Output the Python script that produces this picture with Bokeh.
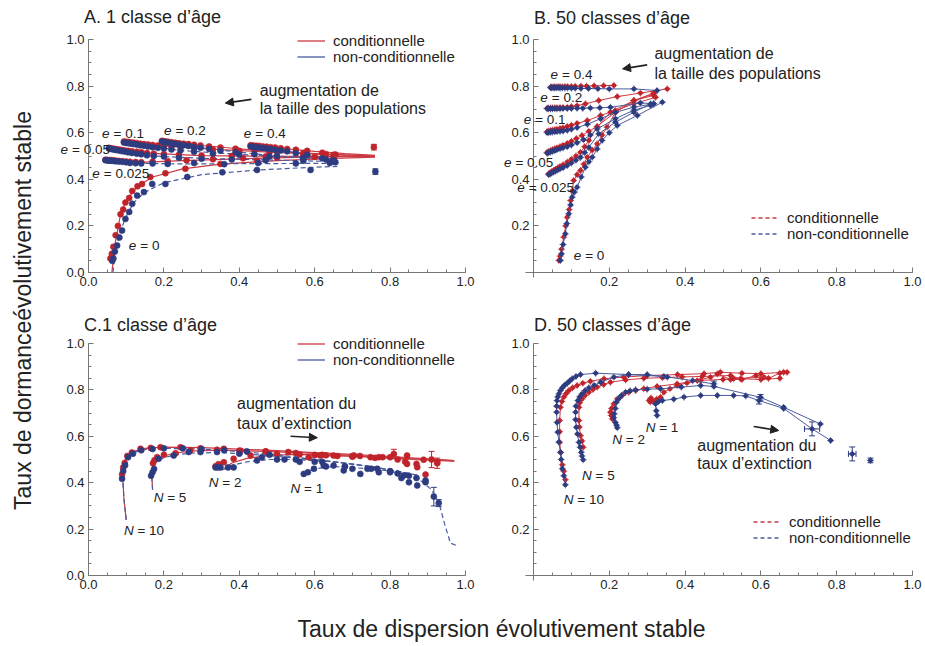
import math
from bokeh.plotting import figure
from bokeh.models import (Range1d, FixedTicker, PrintfTickFormatter, Label, Arrow, NormalHead,
                          Legend, LegendItem, Whisker, ColumnDataSource, TeeHead, LinearAxis)
from bokeh.layouts import row, column
from bokeh.embed import file_html
from bokeh.resources import INLINE

FONT = "Liberation Sans"
RED = "#C1232B"
BLUE = "#2D3C80"
RED_L = "#CC3A44"
BLUE_L = "#4A5C9E"
TXT = "#222222"
AXIS = "#777777"

TICKS_0 = [0.0, 0.2, 0.4, 0.6, 0.8, 1.0]
TICKS_NZ = [0.2, 0.4, 0.6, 0.8, 1.0]
MINOR = [0.0, 0.05, 0.1, 0.15, 0.2, 0.25, 0.3, 0.35, 0.4, 0.45, 0.5, 0.55, 0.6, 0.65, 0.7,
         0.75, 0.8, 0.85, 0.9, 0.95, 1.0]

# ---------------- Panel A : 1 classe d'age (points) ----------------
A_E0_R_X = [0.058,0.062,0.066,0.072,0.078,0.085,0.092,0.098,0.108,0.116,0.130,0.142,0.164,0.204,0.257,0.350,0.447]
A_E0_R_Y = [0.06,0.08,0.11,0.16,0.20,0.25,0.27,0.30,0.32,0.35,0.37,0.38,0.41,0.426,0.445,0.466,0.48]
A_E0_B_X = [0.063,0.066,0.070,0.076,0.082,0.089,0.098,0.108,0.116,0.129,0.147,0.169,0.204,0.262,0.355,0.447,0.589]
A_E0_B_Y = [0.05,0.06,0.09,0.116,0.15,0.18,0.23,0.26,0.295,0.33,0.345,0.38,0.38,0.41,0.43,0.44,0.44]
A_E025_R_X = [0.045,0.050,0.055,0.060,0.066,0.072,0.080,0.090,0.100,0.110,0.125,0.140,0.170,0.210,0.260,0.330,0.410,0.500,0.600]
A_E025_R_Y = [0.484,0.483,0.482,0.482,0.481,0.480,0.479,0.478,0.476,0.475,0.474,0.473,0.475,0.478,0.482,0.486,0.490,0.493,0.496]
A_E025_B_X = [0.045,0.050,0.055,0.060,0.066,0.072,0.080,0.090,0.100,0.110,0.125,0.140,0.170,0.210,0.280,0.360,0.450,0.550,0.640]
A_E025_B_Y = [0.482,0.481,0.480,0.480,0.479,0.477,0.476,0.475,0.473,0.470,0.469,0.468,0.468,0.466,0.470,0.465,0.470,0.468,0.470]
A_E05_R_X = [0.054,0.060,0.066,0.072,0.080,0.088,0.096,0.105,0.115,0.128,0.140,0.155,0.173,0.200,0.240,0.300,0.380,0.470,0.570,0.650]
A_E05_R_Y = [0.535,0.533,0.531,0.530,0.528,0.526,0.524,0.522,0.520,0.518,0.516,0.513,0.510,0.508,0.505,0.502,0.500,0.498,0.500,0.497]
A_E05_B_X = [0.054,0.060,0.066,0.072,0.080,0.088,0.096,0.105,0.115,0.128,0.140,0.155,0.173,0.200,0.240,0.300,0.380,0.470,0.570,0.650]
A_E05_B_Y = [0.532,0.530,0.528,0.526,0.524,0.521,0.519,0.516,0.513,0.510,0.507,0.503,0.500,0.498,0.492,0.488,0.485,0.482,0.480,0.476]
A_E1_R_X = [0.094,0.100,0.106,0.113,0.120,0.128,0.137,0.147,0.158,0.170,0.184,0.200,0.220,0.244,0.280,0.330,0.400,0.480,0.570,0.650]
A_E1_R_Y = [0.562,0.561,0.560,0.558,0.557,0.555,0.553,0.551,0.549,0.547,0.545,0.543,0.541,0.538,0.533,0.528,0.522,0.516,0.510,0.505]
A_E1_B_X = [0.094,0.100,0.106,0.113,0.120,0.128,0.137,0.147,0.158,0.170,0.184,0.200,0.220,0.244,0.280,0.330,0.400,0.480,0.570,0.650]
A_E1_B_Y = [0.558,0.556,0.555,0.553,0.551,0.549,0.546,0.544,0.541,0.538,0.535,0.532,0.528,0.524,0.518,0.510,0.505,0.498,0.490,0.485]
A_E2_R_X = [0.195,0.203,0.211,0.220,0.230,0.240,0.252,0.265,0.280,0.297,0.320,0.350,0.390,0.440,0.500,0.570,0.630]
A_E2_R_Y = [0.565,0.563,0.561,0.559,0.557,0.555,0.553,0.551,0.548,0.545,0.541,0.536,0.531,0.525,0.519,0.513,0.508]
A_E2_B_X = [0.195,0.203,0.211,0.220,0.230,0.240,0.252,0.265,0.280,0.297,0.320,0.350,0.390,0.440,0.500,0.570,0.630]
A_E2_B_Y = [0.562,0.560,0.557,0.555,0.552,0.549,0.546,0.543,0.539,0.535,0.530,0.523,0.516,0.508,0.500,0.492,0.485]
A_E4_R_X = [0.430,0.437,0.445,0.453,0.462,0.472,0.483,0.495,0.510,0.527,0.550,0.580,0.620,0.655]
A_E4_R_Y = [0.546,0.545,0.544,0.543,0.541,0.540,0.538,0.536,0.533,0.530,0.527,0.522,0.514,0.506]
A_E4_B_X = [0.430,0.437,0.445,0.453,0.462,0.472,0.483,0.495,0.510,0.527,0.550,0.580,0.620,0.655]
A_E4_B_Y = [0.541,0.540,0.538,0.536,0.534,0.532,0.530,0.527,0.524,0.520,0.512,0.505,0.490,0.473]
A_EXTRA_R_X = [0.757]
A_EXTRA_R_Y = [0.538]
A_EXTRA_R_E = [0.012]
A_EXTRA_B_X = [0.761]
A_EXTRA_B_Y = [0.433]
A_EXTRA_B_E = [0.012]

# Panel A fitted curves
A_FR0_X = [0.062,0.070,0.085,0.100,0.130,0.170,0.250,0.350,0.500,0.650,0.760]
A_FR0_Y = [0.000,0.120,0.250,0.310,0.370,0.410,0.445,0.465,0.480,0.490,0.495]
A_FB0_X = [0.065,0.070,0.080,0.090,0.100,0.120,0.150,0.200,0.300,0.450,0.600,0.660]
A_FB0_Y = [0.000,0.080,0.150,0.200,0.240,0.300,0.345,0.385,0.420,0.440,0.452,0.455]
A_FR025_X = [0.045,0.100,0.150,0.250,0.400,0.550,0.760]
A_FR025_Y = [0.484,0.477,0.474,0.480,0.488,0.494,0.500]
A_FB025_X = [0.045,0.100,0.150,0.250,0.400,0.550,0.660]
A_FB025_Y = [0.482,0.473,0.468,0.466,0.467,0.468,0.468]
A_FR05_X = [0.054,0.100,0.170,0.300,0.450,0.600,0.760]
A_FR05_Y = [0.535,0.522,0.511,0.502,0.499,0.498,0.497]
A_FB05_X = [0.054,0.100,0.170,0.300,0.450,0.600,0.660]
A_FB05_Y = [0.532,0.515,0.500,0.490,0.484,0.478,0.476]
A_FR1_X = [0.094,0.150,0.244,0.350,0.500,0.650,0.760]
A_FR1_Y = [0.562,0.550,0.538,0.527,0.515,0.505,0.500]
A_FB1_X = [0.094,0.150,0.244,0.350,0.500,0.600,0.660]
A_FB1_Y = [0.558,0.544,0.524,0.512,0.498,0.490,0.485]
A_FR2_X = [0.195,0.250,0.300,0.400,0.500,0.630,0.760]
A_FR2_Y = [0.565,0.554,0.545,0.531,0.519,0.508,0.500]
A_FB2_X = [0.195,0.250,0.300,0.400,0.500,0.600,0.660]
A_FB2_Y = [0.562,0.548,0.535,0.516,0.500,0.490,0.482]
A_FR4_X = [0.430,0.480,0.530,0.600,0.680,0.760]
A_FR4_Y = [0.546,0.538,0.530,0.520,0.510,0.503]
A_FB4_X = [0.430,0.480,0.530,0.580,0.620,0.660]
A_FB4_Y = [0.541,0.531,0.520,0.505,0.490,0.473]

# ---------------- Panel B : 50 classes d'age ----------------
B_E4_R_X = [0.045,0.048,0.052,0.056,0.060,0.065,0.070,0.076,0.083,0.090,0.100,0.110,0.125,0.140,0.160,0.185,0.212]
B_E4_R_Y = [0.795,0.795,0.796,0.796,0.796,0.797,0.797,0.797,0.798,0.798,0.798,0.799,0.800,0.800,0.801,0.802,0.803]
B_E4_B_X = [0.045,0.048,0.052,0.056,0.060,0.065,0.070,0.076,0.083,0.090,0.100,0.110,0.125,0.145,0.170,0.200,0.265,0.326]
B_E4_B_Y = [0.793,0.793,0.793,0.793,0.793,0.793,0.792,0.792,0.792,0.792,0.791,0.791,0.790,0.790,0.789,0.788,0.788,0.781]
B_E2_R_X = [0.036,0.040,0.045,0.050,0.056,0.062,0.070,0.078,0.089,0.100,0.115,0.137,0.172,0.221,0.282,0.353]
B_E2_R_Y = [0.705,0.705,0.706,0.706,0.707,0.707,0.708,0.708,0.709,0.712,0.716,0.724,0.738,0.755,0.770,0.788]
B_E2_B_X = [0.036,0.040,0.045,0.050,0.056,0.062,0.070,0.078,0.089,0.100,0.115,0.130,0.150,0.175,0.203,0.282,0.317]
B_E2_B_Y = [0.703,0.703,0.703,0.703,0.703,0.703,0.703,0.704,0.704,0.704,0.705,0.705,0.706,0.707,0.709,0.728,0.724]
B_E1_R_X = [0.036,0.040,0.045,0.050,0.056,0.062,0.070,0.078,0.089,0.100,0.115,0.142,0.177,0.216,0.265,0.322]
B_E1_R_Y = [0.605,0.607,0.609,0.611,0.613,0.615,0.618,0.621,0.627,0.632,0.640,0.652,0.674,0.695,0.724,0.752]
B_E1_B_X = [0.036,0.040,0.045,0.050,0.056,0.062,0.070,0.078,0.089,0.100,0.115,0.142,0.177,0.216,0.265,0.317]
B_E1_B_Y = [0.600,0.601,0.602,0.603,0.604,0.605,0.606,0.607,0.610,0.615,0.622,0.636,0.660,0.687,0.710,0.724]
B_E05_R_X = [0.036,0.040,0.045,0.050,0.056,0.062,0.070,0.078,0.089,0.100,0.113,0.128,0.146,0.168,0.216,0.265,0.317]
B_E05_R_Y = [0.516,0.519,0.523,0.527,0.531,0.535,0.540,0.546,0.554,0.563,0.575,0.588,0.606,0.627,0.688,0.738,0.760]
B_E05_B_X = [0.036,0.040,0.045,0.050,0.056,0.062,0.070,0.078,0.089,0.100,0.115,0.132,0.150,0.168,0.216,0.265,0.309]
B_E05_B_Y = [0.512,0.514,0.517,0.520,0.523,0.527,0.531,0.535,0.540,0.547,0.557,0.570,0.590,0.616,0.660,0.697,0.717]
B_E025_R_X = [0.040,0.044,0.048,0.053,0.058,0.064,0.070,0.078,0.089,0.100,0.112,0.124,0.135,0.146,0.168,0.203,0.265,0.317]
B_E025_R_Y = [0.424,0.428,0.433,0.438,0.443,0.449,0.455,0.462,0.474,0.486,0.500,0.516,0.540,0.567,0.624,0.688,0.738,0.766]
B_E025_B_X = [0.040,0.044,0.048,0.053,0.058,0.064,0.070,0.078,0.089,0.100,0.112,0.124,0.135,0.146,0.172,0.216,0.265,0.309]
B_E025_B_Y = [0.420,0.423,0.427,0.431,0.435,0.440,0.445,0.450,0.459,0.470,0.482,0.494,0.515,0.537,0.595,0.645,0.688,0.724]
B_E0_R_X = [0.067,0.070,0.074,0.080,0.085,0.089,0.094,0.098,0.102,0.106,0.115,0.124,0.133,0.142,0.155,0.168,0.181,0.194,0.216,0.265,0.317]
B_E0_R_Y = [0.052,0.070,0.100,0.152,0.200,0.237,0.270,0.309,0.350,0.395,0.420,0.438,0.465,0.495,0.525,0.552,0.590,0.624,0.687,0.738,0.770]
B_E0_B_X = [0.071,0.074,0.078,0.084,0.088,0.093,0.098,0.102,0.108,0.115,0.126,0.137,0.146,0.155,0.168,0.181,0.200,0.221,0.274,0.340]
B_E0_B_Y = [0.052,0.080,0.120,0.166,0.210,0.252,0.290,0.323,0.345,0.366,0.410,0.452,0.475,0.495,0.530,0.567,0.600,0.631,0.674,0.731]

# ---------------- Panel C : 1 classe d'age (extinction) ----------------
C_N10_R_X = [0.089,0.092,0.096,0.103,0.115,0.138,0.165,0.191,0.244,0.297,0.359,0.403,0.470,0.530,0.600,0.660,0.720,0.780,0.810,0.845,0.889,0.925]
C_N10_R_Y = [0.435,0.465,0.485,0.515,0.530,0.546,0.550,0.553,0.553,0.548,0.546,0.538,0.535,0.532,0.520,0.515,0.515,0.510,0.524,0.517,0.499,0.484]
C_N10_B_X = [0.089,0.092,0.097,0.105,0.118,0.140,0.170,0.200,0.250,0.300,0.360,0.420,0.480,0.550,0.620,0.680,0.740,0.800,0.850,0.894]
C_N10_B_Y = [0.417,0.450,0.475,0.510,0.525,0.540,0.545,0.548,0.548,0.545,0.540,0.535,0.520,0.500,0.490,0.470,0.460,0.450,0.430,0.410]
C_N5_R_X = [0.171,0.175,0.182,0.200,0.231,0.270,0.341,0.400,0.470,0.550,0.620,0.700,0.770,0.840,0.872]
C_N5_R_Y = [0.484,0.497,0.510,0.520,0.527,0.539,0.542,0.538,0.535,0.528,0.520,0.515,0.510,0.490,0.467]
C_N5_B_X = [0.166,0.170,0.174,0.186,0.226,0.266,0.297,0.341,0.400,0.460,0.520,0.600,0.680,0.750,0.820,0.870]
C_N5_B_Y = [0.430,0.445,0.459,0.503,0.517,0.532,0.532,0.532,0.525,0.510,0.500,0.490,0.470,0.460,0.440,0.420]
C_N2_R_X = [0.337,0.345,0.359,0.385,0.430,0.500,0.560,0.630,0.700,0.760,0.820,0.870,0.894]
C_N2_R_Y = [0.471,0.480,0.488,0.503,0.517,0.524,0.522,0.518,0.512,0.507,0.500,0.481,0.435]
C_N2_B_X = [0.337,0.343,0.350,0.370,0.385,0.447,0.500,0.560,0.630,0.700,0.770,0.830,0.872]
C_N2_B_Y = [0.466,0.466,0.466,0.466,0.466,0.496,0.500,0.490,0.470,0.460,0.445,0.420,0.388]
C_N1_R_X = [0.584,0.615,0.650,0.704,0.748,0.800,0.845,0.910,0.925]
C_N1_R_Y = [0.510,0.517,0.517,0.517,0.510,0.510,0.481,0.500,0.490]
C_N1_B_X = [0.571,0.582,0.598,0.624,0.650,0.677,0.721,0.766,0.800,0.836,0.850,0.894,0.916,0.929]
C_N1_B_Y = [0.438,0.445,0.460,0.474,0.474,0.453,0.438,0.460,0.445,0.431,0.402,0.402,0.340,0.312]
C_EB_R_X = [0.810,0.910,0.925]
C_EB_R_Y = [0.524,0.500,0.484]
C_EB_R_E = [0.020,0.035,0.022]
C_EB_B_X = [0.916,0.929]
C_EB_B_Y = [0.340,0.312]
C_EB_B_E = [0.040,0.015]

C_FR10_X = [0.100,0.094,0.091,0.092,0.097,0.106,0.120,0.150,0.200,0.300,0.400,0.500,0.600,0.700,0.800,0.900,0.970]
C_FR10_Y = [0.240,0.330,0.420,0.470,0.500,0.520,0.535,0.548,0.553,0.551,0.545,0.538,0.530,0.522,0.513,0.503,0.495]
C_FB10_X = [0.100,0.094,0.091,0.092,0.097,0.106,0.120,0.150,0.200,0.300,0.400,0.500,0.600,0.700,0.800,0.880]
C_FB10_Y = [0.240,0.330,0.410,0.460,0.490,0.515,0.530,0.543,0.548,0.545,0.535,0.520,0.500,0.480,0.455,0.430]
C_FR5_X = [0.170,0.168,0.170,0.180,0.200,0.230,0.280,0.350,0.450,0.600,0.750,0.900,0.970]
C_FR5_Y = [0.370,0.430,0.470,0.500,0.515,0.528,0.537,0.540,0.536,0.526,0.514,0.500,0.494]
C_FB5_X = [0.170,0.168,0.170,0.180,0.200,0.230,0.280,0.350,0.450,0.600,0.750,0.880]
C_FB5_Y = [0.370,0.420,0.460,0.490,0.508,0.520,0.528,0.530,0.520,0.500,0.470,0.430]
C_FR2_X = [0.360,0.380,0.420,0.480,0.550,0.650,0.750,0.850,0.970]
C_FR2_Y = [0.460,0.485,0.505,0.518,0.522,0.518,0.510,0.500,0.493]
C_FB2_X = [0.355,0.380,0.420,0.480,0.550,0.650,0.750,0.850]
C_FB2_Y = [0.455,0.475,0.490,0.500,0.500,0.490,0.470,0.440]
C_FR1_X = [0.570,0.620,0.700,0.800,0.900,0.970]
C_FR1_Y = [0.500,0.515,0.515,0.508,0.500,0.495]
C_FB1_X = [0.570,0.600,0.650,0.700,0.750,0.800,0.850,0.880,0.910,0.930,0.945,0.960,0.975]
C_FB1_Y = [0.440,0.460,0.470,0.465,0.460,0.450,0.430,0.410,0.370,0.310,0.220,0.140,0.130]

# ---------------- Panel D : 50 classes d'age (extinction) ----------------
D_N10_R_X = [0.084,0.080,0.076,0.072,0.069,0.069,0.069,0.071,0.075,0.080,0.086,0.093,0.103,0.115,0.130,0.150,0.186,0.238,0.300,0.380,0.450,0.493,0.550,0.600,0.660]
D_N10_R_Y = [0.413,0.450,0.477,0.530,0.574,0.620,0.668,0.725,0.750,0.769,0.784,0.797,0.809,0.819,0.829,0.837,0.848,0.855,0.862,0.866,0.870,0.876,0.872,0.870,0.876]
D_N10_B_X = [0.084,0.080,0.076,0.073,0.071,0.067,0.064,0.062,0.061,0.061,0.062,0.064,0.067,0.071,0.076,0.082,0.089,0.095,0.102,0.112,0.124,0.164,0.251,0.344,0.420,0.476]
D_N10_B_Y = [0.391,0.430,0.460,0.500,0.531,0.575,0.618,0.660,0.704,0.730,0.754,0.770,0.783,0.797,0.809,0.820,0.829,0.838,0.848,0.858,0.866,0.872,0.866,0.858,0.840,0.826]
D_N5_R_X = [0.131,0.128,0.124,0.121,0.120,0.120,0.122,0.128,0.136,0.146,0.157,0.168,0.185,0.203,0.243,0.291,0.340,0.392,0.445,0.520,0.546,0.600,0.650]
D_N5_R_Y = [0.553,0.580,0.603,0.640,0.668,0.725,0.745,0.761,0.776,0.790,0.802,0.812,0.823,0.833,0.843,0.850,0.853,0.856,0.858,0.862,0.848,0.845,0.850]
D_N5_B_X = [0.131,0.128,0.126,0.123,0.120,0.116,0.113,0.111,0.111,0.112,0.117,0.122,0.128,0.136,0.146,0.160,0.177,0.212,0.251,0.300,0.353]
D_N5_B_Y = [0.499,0.515,0.531,0.553,0.574,0.610,0.639,0.672,0.704,0.730,0.754,0.770,0.783,0.797,0.809,0.820,0.833,0.855,0.866,0.866,0.855]
D_N2_R_X = [0.208,0.205,0.203,0.206,0.212,0.221,0.234,0.251,0.270,0.291,0.326,0.379,0.441,0.500,0.528,0.608]
D_N2_R_Y = [0.675,0.690,0.704,0.720,0.740,0.761,0.776,0.790,0.798,0.805,0.815,0.826,0.841,0.845,0.848,0.855]
D_N2_B_X = [0.221,0.219,0.216,0.212,0.213,0.216,0.219,0.225,0.232,0.243,0.255,0.269,0.300,0.335,0.390,0.441,0.476,0.599,0.660,0.757]
D_N2_B_Y = [0.637,0.648,0.660,0.680,0.697,0.720,0.747,0.762,0.776,0.790,0.796,0.800,0.803,0.805,0.812,0.819,0.815,0.768,0.725,0.653]
D_N1_R_X = [0.310,0.305,0.308,0.315,0.325,0.335,0.344,0.360,0.379,0.405,0.432,0.467,0.485,0.520,0.550,0.587,0.620,0.650,0.669]
D_N1_R_Y = [0.765,0.755,0.748,0.752,0.760,0.768,0.790,0.805,0.819,0.830,0.840,0.855,0.869,0.845,0.845,0.862,0.850,0.872,0.876]
D_N1_B_X = [0.326,0.324,0.322,0.330,0.340,0.370,0.397,0.441,0.485,0.528,0.560,0.595,0.660,0.735,0.784]
D_N1_B_Y = [0.690,0.710,0.740,0.750,0.754,0.760,0.769,0.776,0.776,0.776,0.774,0.754,0.720,0.632,0.582]
D_EXTRA_B_X = [0.841,0.889]
D_EXTRA_B_Y = [0.524,0.496]
D_EB_B_X = [0.595,0.735,0.841,0.889,0.476,0.599]
D_EB_B_Y = [0.754,0.632,0.524,0.496,0.826,0.768]
D_EB_B_E = [0.015,0.030,0.030,0.010,0.012,0.012]
D_EBX_B_X = [0.735,0.841]
D_EBX_B_Y = [0.632,0.524]
D_EBX_B_E = [0.020,0.010]

# frame geometry (ranges chosen so the frame fills each figure)
XR_LEFT = (-48 / 377, 1 + 20 / 377)
XR_RIGHT = (-48 / 379, 392 / 379)
YR_TOP = (-28 / 233, 1 + 39 / 233)
YR_BOTTOM = (-25 / 232, 1 + 43 / 232)
NAN = float("nan")


def base_fig(w, h, xr, yr, ticks, bounds):
    p = figure(width=w, height=h, x_range=Range1d(*xr), y_range=Range1d(*yr),
               output_backend="svg", toolbar_location=None,
               x_axis_type=None, y_axis_type=None, min_border=0)
    p.outline_line_color = None
    p.grid.visible = False
    for place in ("below", "left"):
        ax = LinearAxis(fixed_location=0, bounds=bounds,
                        ticker=FixedTicker(ticks=ticks, minor_ticks=MINOR),
                        formatter=PrintfTickFormatter(format="%.1f"))
        ax.axis_line_color = AXIS
        ax.major_tick_line_color = AXIS
        ax.minor_tick_line_color = AXIS
        ax.major_tick_in = 5
        ax.major_tick_out = 0
        ax.minor_tick_in = 3
        ax.minor_tick_out = 0
        ax.major_label_text_font = FONT
        ax.major_label_text_font_size = "13px"
        ax.major_label_text_color = TXT
        ax.major_label_standoff = 4
        p.add_layout(ax, place)
    return p


def txt(p, x, y, s, size="16px", italic=False, align="left", xoff=0, angle=0.0):
    p.add_layout(Label(x=x, y=y, text=s,
                       text_font=FONT, text_font_size=size,
                       text_font_style="italic" if italic else "normal",
                       text_align=align, text_baseline="middle", x_offset=xoff,
                       angle=angle, text_color=TXT))


def var_label(p, x, y, var, val):
    txt(p, x, y, var, size="13.5px", italic=True)
    off = 11.5 if var == "e" else 13.5
    txt(p, x, y, "= " + val, size="13.5px", xoff=off)


def arrow(p, x0, y0, x1, y1):
    p.add_layout(Arrow(end=NormalHead(size=8, fill_color=TXT, line_color=TXT),
                       x_start=x0, y_start=y0, x_end=x1, y_end=y1,
                       line_color=TXT, line_width=1.6))


def legend_item(p, label, color, dash, loc):
    r = p.line([NAN, NAN], [NAN, NAN], line_color=color, line_width=1.3, line_dash=dash)
    lg = Legend(items=[LegendItem(label=label, renderers=[r])],
                location=loc, label_text_font=FONT, label_text_font_size="15px",
                label_text_color=TXT, label_height=13, glyph_height=13, glyph_width=28,
                label_standoff=8, spacing=0, padding=0, margin=0,
                background_fill_alpha=0, border_line_alpha=0)
    p.add_layout(lg)


def legends(p, dash, x, y_red, y_blue):
    legend_item(p, "conditionnelle", RED_L, dash, (x, y_red))
    legend_item(p, "non-conditionnelle", BLUE_L, dash, (x, y_blue))


def ebars(p, xs, ys, es, color, dim="height"):
    if dim == "height":
        src = ColumnDataSource(dict(base=xs, lower=[y - e for y, e in zip(ys, es)],
                                    upper=[y + e for y, e in zip(ys, es)]))
    else:
        src = ColumnDataSource(dict(base=ys, lower=[x - e for x, e in zip(xs, es)],
                                    upper=[x + e for x, e in zip(xs, es)]))
    p.add_layout(Whisker(source=src, base="base", lower="lower", upper="upper", dimension=dim,
                         line_color=color, line_width=1,
                         upper_head=TeeHead(size=6, line_color=color, line_width=1),
                         lower_head=TeeHead(size=6, line_color=color, line_width=1)))


def dots(p, xs, ys, color, size=6):
    p.scatter(xs, ys, marker="circle", size=size, fill_color=color, line_color=color, line_alpha=0.6)


def connected(p, xs, ys, color, lcolor):
    if lcolor is not None:
        p.line(xs, ys, line_color=lcolor, line_width=1)
    p.scatter(xs, ys, marker="cross", size=7, line_color=color, line_width=1, line_alpha=0.75)
    p.scatter(xs, ys, marker="circle", size=4, fill_color=color, line_color=color)


# ---------------- Panel A ----------------
pA = base_fig(445, 300, XR_LEFT, YR_TOP, TICKS_0, (0, 1))
A_FITS_R = [(A_FR0_X, A_FR0_Y), (A_FR025_X, A_FR025_Y), (A_FR05_X, A_FR05_Y), (A_FR1_X, A_FR1_Y), (A_FR2_X, A_FR2_Y), (A_FR4_X, A_FR4_Y)]
A_FITS_B = [(A_FB0_X, A_FB0_Y), (A_FB025_X, A_FB025_Y), (A_FB05_X, A_FB05_Y), (A_FB1_X, A_FB1_Y), (A_FB2_X, A_FB2_Y), (A_FB4_X, A_FB4_Y)]
for fx, fy in A_FITS_R:
    pA.line(fx, fy, line_color=RED_L, line_width=1.2)
for fx, fy in A_FITS_B:
    pA.line(fx, fy, line_color=BLUE_L, line_width=1.2, line_dash="5 3")
A_PTS = [(A_E0_R_X, A_E0_R_Y, A_E0_B_X, A_E0_B_Y), (A_E025_R_X, A_E025_R_Y, A_E025_B_X, A_E025_B_Y),
         (A_E05_R_X, A_E05_R_Y, A_E05_B_X, A_E05_B_Y), (A_E1_R_X, A_E1_R_Y, A_E1_B_X, A_E1_B_Y),
         (A_E2_R_X, A_E2_R_Y, A_E2_B_X, A_E2_B_Y), (A_E4_R_X, A_E4_R_Y, A_E4_B_X, A_E4_B_Y)]
for rx, ry, bx, by in A_PTS:
    dots(pA, rx, ry, RED)
    dots(pA, bx, by, BLUE)
ebars(pA, A_EXTRA_R_X, A_EXTRA_R_Y, A_EXTRA_R_E, RED)
ebars(pA, A_EXTRA_B_X, A_EXTRA_B_Y, A_EXTRA_B_E, BLUE)
dots(pA, A_EXTRA_R_X, A_EXTRA_R_Y, RED)
dots(pA, A_EXTRA_B_X, A_EXTRA_B_Y, BLUE)
txt(pA, -0.012, 1.096, "A. 1 classe d’âge", size="18px")
txt(pA, 0.454, 0.781, "augmentation de")
txt(pA, 0.454, 0.703, "la taille des populations")
arrow(pA, 0.432, 0.743, 0.363, 0.727)
var_label(pA, 0.036, 0.598, "e", "0.1")
var_label(pA, 0.200, 0.609, "e", "0.2")
var_label(pA, 0.412, 0.595, "e", "0.4")
var_label(pA, -0.074, 0.528, "e", "0.05")
var_label(pA, 0.010, 0.424, "e", "0.025")
var_label(pA, 0.107, 0.116, "e", "0")
legends(pA, "solid", 257, 251, 235)

# ---------------- Panel B ----------------
pB = base_fig(440, 300, XR_RIGHT, YR_TOP, TICKS_NZ, (-0.02, 1))
B_SER = [(B_E4_R_X, B_E4_R_Y, B_E4_B_X, B_E4_B_Y), (B_E2_R_X, B_E2_R_Y, B_E2_B_X, B_E2_B_Y),
         (B_E1_R_X, B_E1_R_Y, B_E1_B_X, B_E1_B_Y), (B_E05_R_X, B_E05_R_Y, B_E05_B_X, B_E05_B_Y),
         (B_E025_R_X, B_E025_R_Y, B_E025_B_X, B_E025_B_Y), (B_E0_R_X, B_E0_R_Y, B_E0_B_X, B_E0_B_Y)]
for rx, ry, bx, by in B_SER:
    connected(pB, rx, ry, RED, RED_L)
for rx, ry, bx, by in B_SER:
    connected(pB, bx, by, BLUE, BLUE_L)
txt(pB, 0.001, 1.093, "B. 50 classes d’âge", size="18px")
txt(pB, 0.319, 0.939, "augmentation de")
txt(pB, 0.319, 0.855, "la taille des populations")
arrow(pB, 0.300, 0.891, 0.235, 0.874)
var_label(pB, 0.045, 0.850, "e", "0.4")
var_label(pB, 0.018, 0.752, "e", "0.2")
var_label(pB, -0.026, 0.655, "e", "0.1")
var_label(pB, -0.078, 0.470, "e", "0.05")
var_label(pB, -0.043, 0.366, "e", "0.025")
var_label(pB, 0.106, 0.073, "e", "0")
legends(pB, "4 3", 266, 74, 58)

# ---------------- Panel C ----------------
pC = base_fig(445, 300, XR_LEFT, YR_BOTTOM, TICKS_0, (0, 1))
C_FR = [(C_FR10_X, C_FR10_Y), (C_FR5_X, C_FR5_Y), (C_FR2_X, C_FR2_Y), (C_FR1_X, C_FR1_Y)]
C_FB = [(C_FB10_X, C_FB10_Y), (C_FB5_X, C_FB5_Y), (C_FB2_X, C_FB2_Y), (C_FB1_X, C_FB1_Y)]
for fx, fy in C_FR:
    pC.line(fx, fy, line_color=RED_L, line_width=1.2)
for fx, fy in C_FB:
    pC.line(fx, fy, line_color=BLUE_L, line_width=1.2, line_dash="5 3")
C_PTS = [(C_N10_R_X, C_N10_R_Y, C_N10_B_X, C_N10_B_Y), (C_N5_R_X, C_N5_R_Y, C_N5_B_X, C_N5_B_Y),
         (C_N2_R_X, C_N2_R_Y, C_N2_B_X, C_N2_B_Y), (C_N1_R_X, C_N1_R_Y, C_N1_B_X, C_N1_B_Y)]
for rx, ry, bx, by in C_PTS:
    dots(pC, rx, ry, RED)
for rx, ry, bx, by in C_PTS:
    dots(pC, bx, by, BLUE)
ebars(pC, C_EB_R_X, C_EB_R_Y, C_EB_R_E, RED)
ebars(pC, C_EB_B_X, C_EB_B_Y, C_EB_B_E, BLUE)
txt(pC, -0.012, 1.078, "C.1 classe d’âge", size="18px")
txt(pC, 0.394, 0.740, "augmentation du")
txt(pC, 0.394, 0.656, "taux d’extinction")
arrow(pC, 0.536, 0.600, 0.607, 0.594)
var_label(pC, 0.094, 0.194, "N", "10")
var_label(pC, 0.173, 0.338, "N", "5")
var_label(pC, 0.319, 0.402, "N", "2")
var_label(pC, 0.536, 0.374, "N", "1")
legends(pC, "solid", 257, 248, 232)

# ---------------- Panel D ----------------
pD = base_fig(440, 300, XR_RIGHT, YR_BOTTOM, TICKS_NZ, (-0.02, 1))
D_SER = [(D_N10_R_X, D_N10_R_Y, D_N10_B_X, D_N10_B_Y), (D_N5_R_X, D_N5_R_Y, D_N5_B_X, D_N5_B_Y),
         (D_N2_R_X, D_N2_R_Y, D_N2_B_X, D_N2_B_Y), (D_N1_R_X, D_N1_R_Y, D_N1_B_X, D_N1_B_Y)]
for rx, ry, bx, by in D_SER:
    connected(pD, rx, ry, RED, RED_L)
for rx, ry, bx, by in D_SER:
    connected(pD, bx, by, BLUE, BLUE_L)
ebars(pD, D_EB_B_X, D_EB_B_Y, D_EB_B_E, BLUE)
ebars(pD, D_EBX_B_X, D_EBX_B_Y, D_EBX_B_E, BLUE, dim="width")
connected(pD, D_EXTRA_B_X, D_EXTRA_B_Y, BLUE, None)
txt(pD, 0.001, 1.078, "D. 50 classes d’âge", size="18px")
txt(pD, 0.432, 0.560, "augmentation du")
txt(pD, 0.432, 0.481, "taux d’extinction")
arrow(pD, 0.581, 0.642, 0.647, 0.625)
var_label(pD, 0.080, 0.328, "N", "10")
var_label(pD, 0.128, 0.431, "N", "5")
var_label(pD, 0.208, 0.585, "N", "2")
var_label(pD, 0.296, 0.639, "N", "1")
legends(pD, "4 3", 268, 70, 54)

# ---------------- shared axis titles ----------------
left = figure(width=40, height=646, x_range=Range1d(0, 40), y_range=Range1d(0, 646),
              output_backend="svg", toolbar_location=None, x_axis_type=None, y_axis_type=None,
              min_border=0)
left.outline_line_color = None
left.grid.visible = False
txt(left, 22, 336, "Taux de dormanceévolutivement stable", size="23px", align="center", angle=math.pi / 2)

bottom = figure(width=885, height=46, x_range=Range1d(0, 885), y_range=Range1d(0, 46),
                output_backend="svg", toolbar_location=None, x_axis_type=None, y_axis_type=None,
                min_border=0)
bottom.outline_line_color = None
bottom.grid.visible = False
txt(bottom, 461, 18, "Taux de dispersion évolutivement stable", size="23px", align="center")

layout = row(left, column(row(pA, pB), row(pC, pD), bottom))
open("out.html", "w").write(file_html(layout, INLINE))
